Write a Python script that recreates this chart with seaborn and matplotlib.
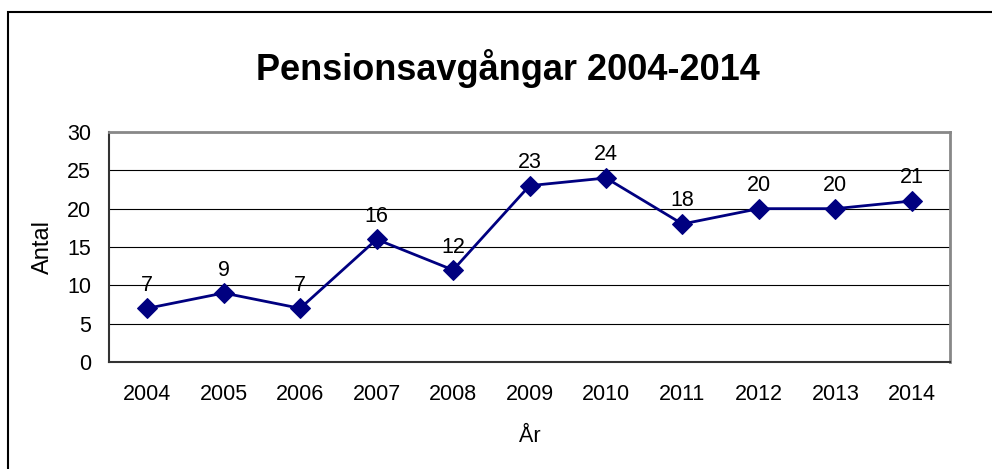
import matplotlib
matplotlib.use("Agg")
import matplotlib.pyplot as plt
import seaborn as sns
import pandas as pd
from matplotlib.patches import Rectangle

# chart data
years = ["2004", "2005", "2006", "2007", "2008", "2009", "2010", "2011", "2012", "2013", "2014"]
antal = [7, 9, 7, 16, 12, 23, 24, 18, 20, 20, 21]
y_ticks = [0, 5, 10, 15, 20, 25, 30]

df = pd.DataFrame({"year": years, "antal": antal})
df["pos"] = range(len(df))

sns.set_style("white")
plt.rcParams["font.family"] = ["Liberation Sans", "DejaVu Sans"]
plt.rcParams["text.color"] = "black"
plt.rcParams["axes.labelcolor"] = "black"
plt.rcParams["xtick.color"] = "black"
plt.rcParams["ytick.color"] = "black"

fig = plt.figure(figsize=(9.92, 4.69), dpi=100)
ax = fig.add_axes([0.1099, 0.2281, 0.8478, 0.4905])

# outer chart frame (right/bottom edges fall outside the picture)
fig.patches.append(Rectangle((8 / 992, -0.05), 1.2, 1 - 12 / 469 + 0.05,
                             transform=fig.transFigure, fill=False,
                             edgecolor="black", linewidth=1.5))

sns.lineplot(data=df, x="pos", y="antal", ax=ax, color="#000080", linewidth=2,
             marker="D", markersize=10, markeredgecolor="#000080")

for x, v in zip(df["pos"], df["antal"]):
    ax.annotate(str(v), (x, v), xytext=(0, 9), textcoords="offset points",
                ha="center", va="bottom", fontsize=15.5, color="black")

ax.set_xlim(-0.5, len(years) - 0.5)
ax.set_ylim(0, 30)
ax.set_yticks(y_ticks)
ax.yaxis.grid(True, color="black", linewidth=0.8)
ax.set_axisbelow(True)

ax.set_xticks([i - 0.5 for i in range(len(years) + 1)])
ax.set_xticklabels([])
ax.set_xticks(range(len(years)), minor=True)
ax.set_xticklabels(years, minor=True, fontsize=15.5)
ax.tick_params(axis="x", which="major", direction="out", length=4, width=1, color="#333333")
ax.tick_params(axis="x", which="minor", length=0, pad=16)
ax.tick_params(axis="y", direction="out", length=5, width=1, color="#333333", labelsize=15.5, pad=8)

for side in ["top", "right"]:
    ax.spines[side].set_color("#888888")
    ax.spines[side].set_linewidth(2)
for side in ["left", "bottom"]:
    ax.spines[side].set_color("#333333")
    ax.spines[side].set_linewidth(1.5)

ax.set_xlabel("År", fontsize=15.5, labelpad=15)
ax.set_ylabel("Antal", fontsize=17, labelpad=9)

fig.text(0.512, 1 - 68 / 469, "Pensionsavgångar 2004-2014", ha="center", va="center",
         fontsize=26, fontweight="bold")

fig.savefig("out.png", dpi=100)
